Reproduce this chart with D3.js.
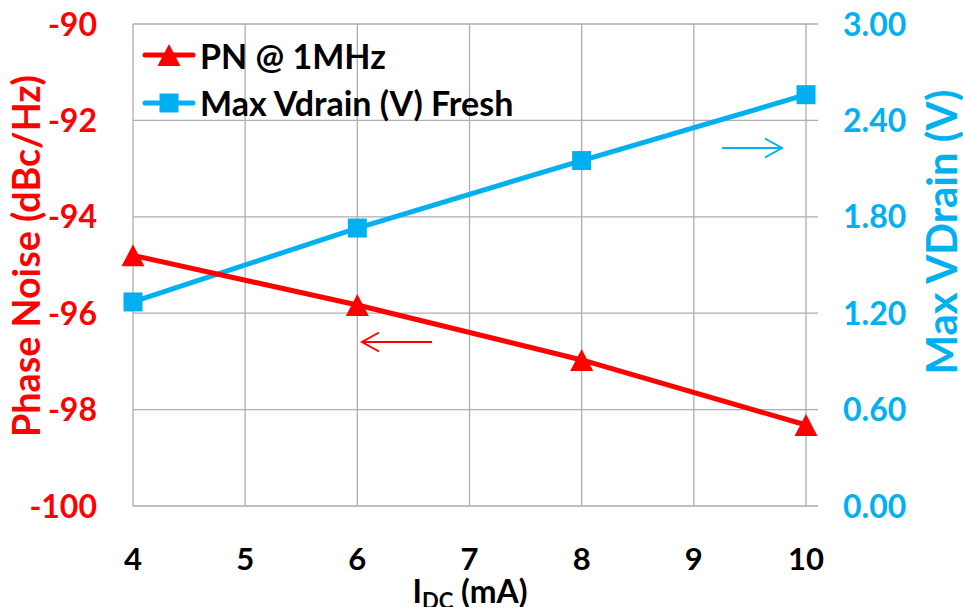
<!DOCTYPE html>
<html><head><meta charset="utf-8">
<script src="https://cdn.jsdelivr.net/npm/d3@7"></script>
<style>body{margin:0;background:#fff}svg{display:block}text{font-family:Lato,"Open Sans",sans-serif}</style>
</head><body>
<svg id="c" width="963" height="607"></svg>
<script>
const xValues = [4, 6, 8, 10];
const pnValues = [-94.8, -95.83, -96.97, -98.32];
const vdValues = [1.27, 1.73, 2.15, 2.56];
const xTicks = [4, 5, 6, 7, 8, 9, 10];
const leftTicks = [-100, -98, -96, -94, -92, -90];
const rightTicks = [0, 0.6, 1.2, 1.8, 2.4, 3.0];
const seriesNames = ["PN @ 1MHz", "Max Vdrain (V) Fresh"];
const RED = "#FF0000", BLUE = "#00B0F0", GRID = "#ADADAD";

const svg = d3.select("#c");
const L = 133, R = 806, T = 24, B = 506;
const x = d3.scaleLinear().domain([4, 10]).range([L, R]);
const yL = d3.scaleLinear().domain([-100, -90]).range([B, T]);
const yR = d3.scaleLinear().domain([0, 3]).range([B, T]);

function fit(sel, len) {
  const n = sel.node();
  const fs = parseFloat(sel.attr("font-size"));
  const w = n.getComputedTextLength();
  if (w > 0) sel.attr("font-size", (fs * len / w).toFixed(2));
  return sel;
}

// grid
const g = svg.append("g");
g.selectAll(".h").data(leftTicks).join("line")
  .attr("x1", L).attr("x2", R + 12).attr("y1", d => yL(d)).attr("y2", d => yL(d))
  .attr("stroke", GRID).attr("stroke-width", 1.3);
g.selectAll(".v").data(xTicks).join("line")
  .attr("x1", d => x(d)).attr("x2", d => x(d)).attr("y1", T).attr("y2", B)
  .attr("stroke", GRID).attr("stroke-width", 1.3);

// left axis labels
svg.append("g").selectAll("text").data(leftTicks).join("text")
  .attr("x", 97).attr("y", d => yL(d)).attr("dy", "0.36em")
  .attr("text-anchor", "end").attr("fill", RED)
  .attr("font-size", 32).attr("font-weight", "bold").text(d => d);
// right axis labels
svg.append("g").selectAll("text").data(rightTicks).join("text")
  .attr("x", 843).attr("y", d => yR(d)).attr("dy", "0.36em")
  .attr("text-anchor", "start").attr("fill", BLUE)
  .attr("font-size", 32).attr("font-weight", "bold").text(d => d3.format(".2f")(d));
// x labels
svg.append("g").selectAll("text").data(xTicks).join("text")
  .attr("x", d => x(d)).attr("y", 570)
  .attr("text-anchor", "middle").attr("fill", "#000")
  .attr("font-size", 31).attr("font-weight", "bold").text(d => d);

// axis titles
fit(svg.append("text").attr("transform", "translate(40,256) rotate(-90)")
  .attr("text-anchor", "middle").attr("fill", RED).attr("font-size", 34).attr("font-weight", "bold")
  .text("Phase Noise (dBc/Hz)"), 362);
fit(svg.append("text").attr("transform", "translate(957,232) rotate(-90)")
  .attr("text-anchor", "middle").attr("fill", BLUE).attr("font-size", 34).attr("font-weight", "bold")
  .text("Max VDrain (V)"), 285);
const xt = svg.append("text").attr("x", 470).attr("y", 603).attr("text-anchor", "middle")
  .attr("fill", "#000").attr("font-size", 32).attr("font-weight", "bold");
xt.append("tspan").text("I");
xt.append("tspan").attr("font-size", 22).attr("dy", 6).text("DC");
xt.append("tspan").attr("dy", -6).text(" (mA)");

// lines
const lineL = d3.line().x((d, i) => x(xValues[i])).y(d => yL(d));
const lineR = d3.line().x((d, i) => x(xValues[i])).y(d => yR(d));
svg.append("path").attr("d", lineR(vdValues)).attr("fill", "none").attr("stroke", BLUE).attr("stroke-width", 5);
svg.append("path").attr("d", lineL(pnValues)).attr("fill", "none").attr("stroke", RED).attr("stroke-width", 5);
const triPath = "M0,-11L11.5,11L-11.5,11Z";
const sqPath = "M-9.5,-9.5H9.5V9.5H-9.5Z";
svg.append("g").selectAll("path").data(vdValues).join("path")
  .attr("d", sqPath).attr("transform", (d, i) => `translate(${x(xValues[i])},${yR(d)})`).attr("fill", BLUE);
svg.append("g").selectAll("path").data(pnValues).join("path")
  .attr("d", triPath).attr("transform", (d, i) => `translate(${x(xValues[i])},${yL(d)})`).attr("fill", RED);

// arrows
function arrow(x1, y1, x2, y2, color) {
  svg.append("line").attr("x1", x1).attr("y1", y1).attr("x2", x2).attr("y2", y2)
    .attr("stroke", color).attr("stroke-width", 2);
  const dir = Math.sign(x2 - x1);
  svg.append("polyline").attr("points", `${x2 - dir * 17},${y2 - 9.5} ${x2},${y2} ${x2 - dir * 17},${y2 + 9.5}`)
    .attr("fill", "none").attr("stroke", color).attr("stroke-width", 2);
}
arrow(432, 342, 362, 342, RED);
arrow(722, 148, 782, 148, BLUE);

// legend
const lg = svg.append("g");
const legendRows = [{ c: RED, s: triPath, y: 55, ty: 57 }, { c: BLUE, s: sqPath, y: 103, ty: 104 }];
legendRows.forEach((r, i) => {
  lg.append("line").attr("x1", 145).attr("x2", 193).attr("y1", r.y).attr("y2", r.y)
    .attr("stroke", r.c).attr("stroke-width", 5).attr("stroke-linecap", "round");
  lg.append("path").attr("d", r.s).attr("transform", `translate(169,${r.y})`).attr("fill", r.c);
  lg.append("text").attr("x", 200).attr("y", r.ty).attr("dy", "0.36em")
    .attr("font-size", 34).attr("font-weight", "bold").attr("fill", "#000").text(seriesNames[i]);
});
</script>
</body></html>
